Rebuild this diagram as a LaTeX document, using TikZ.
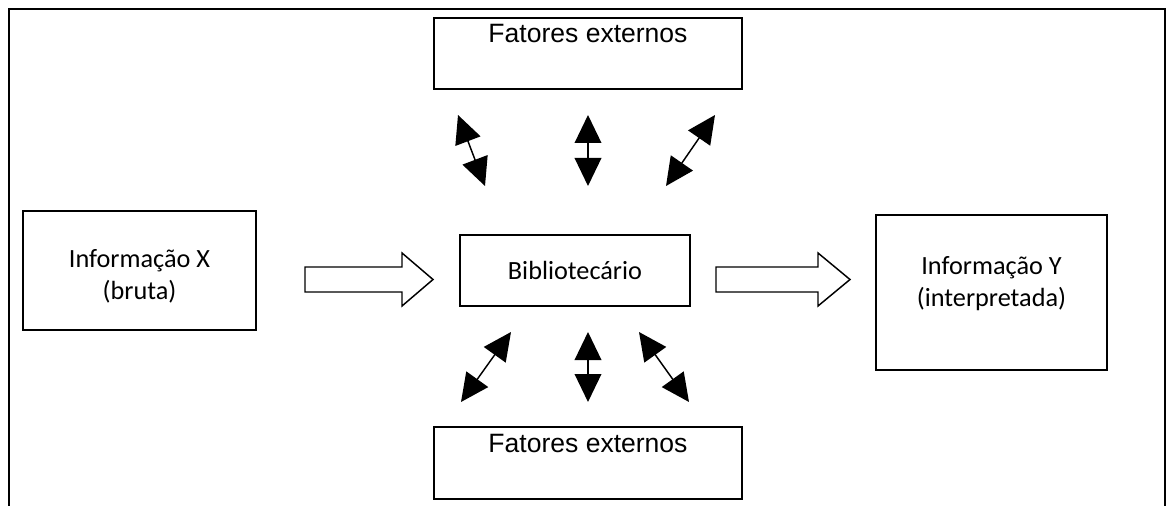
\documentclass[tikz,border=0pt]{standalone}
\usepackage{fontspec}
\setmainfont{Carlito}
\newfontfamily\arialf{Liberation Sans}
\usetikzlibrary{arrows.meta}
\tikzset{
  box/.style={draw, line width=1.1pt, inner sep=0pt},
  cal/.style={font=\fontsize{19.7}{24}\selectfont, inner sep=0pt, anchor=base},
  ari/.style={font=\arialf\fontsize{19.9}{24}\selectfont, inner sep=0pt, anchor=base},
  dbl/.style={line width=1.1pt, {Triangle[length=21pt,width=20pt]}-{Triangle[length=21pt,width=20pt]}},
  blockarrow/.style={draw, line width=1.1pt, fill=white, line join=miter}
}
\begin{document}
\begin{tikzpicture}[x=0.75pt,y=-0.75pt]
\useasboundingbox (0,0) rectangle (1166,506);
% outer frame (open at bottom)
\draw[line width=1.9pt] (9,506) -- (9,9) -- (1165,9) -- (1165,506);

% boxes
\node[box, minimum width=308*0.75pt, minimum height=71*0.75pt] (ftop) at (588,53.5) {};
\node[box, minimum width=308*0.75pt, minimum height=72*0.75pt] (fbot) at (588,463) {};
\node[box, minimum width=233*0.75pt, minimum height=119*0.75pt] (infx) at (139.5,270.5) {};
\node[box, minimum width=231*0.75pt, minimum height=155*0.75pt] (infy) at (991.5,292.5) {};
\node[box, minimum width=230*0.75pt, minimum height=71*0.75pt] (bib) at (575,270.5) {};

% texts
\node[ari] (ftopt) at (588,43) {Fatores externos};
\node[ari] (fbott) at (588,452) {Fatores externos};
\node[cal] (infx1) at (139.5,267) {Informação X};
\node[cal] (infx2) at (139.5,299) {(bruta)};
\node[cal] (infy1) at (991.5,274) {Informação Y};
\node[cal] (infy2) at (991.5,306) {(interpretada)};
\node[cal] (bibt) at (575,279) {Bibliotecário};

% block arrows
\draw[blockarrow] (305,267) -- (402,267) -- (402,253) -- (433,279.5) -- (402,306) -- (402,292) -- (305,292) -- cycle;
\draw[blockarrow] (716,267) -- (818,267) -- (818,253) -- (850,279.5) -- (818,306) -- (818,292) -- (716,292) -- cycle;

% double arrows top
\coordinate (a1s) at (458,115); \coordinate (a1e) at (485,186);
\coordinate (a2s) at (588,115); \coordinate (a2e) at (588,186);
\coordinate (a3s) at (715,115); \coordinate (a3e) at (666,186);
\draw[dbl] (a1s) -- (a1e);
\draw[dbl] (a2s) -- (a2e);
\draw[dbl] (a3s) -- (a3e);

% double arrows bottom
\coordinate (b1s) at (511,332); \coordinate (b1e) at (461,402);
\coordinate (b2s) at (588,332); \coordinate (b2e) at (588,402);
\coordinate (b3s) at (639,332); \coordinate (b3e) at (689,402);
\draw[dbl] (b1s) -- (b1e);
\draw[dbl] (b2s) -- (b2e);
\draw[dbl] (b3s) -- (b3e);
\end{tikzpicture}
\end{document}
